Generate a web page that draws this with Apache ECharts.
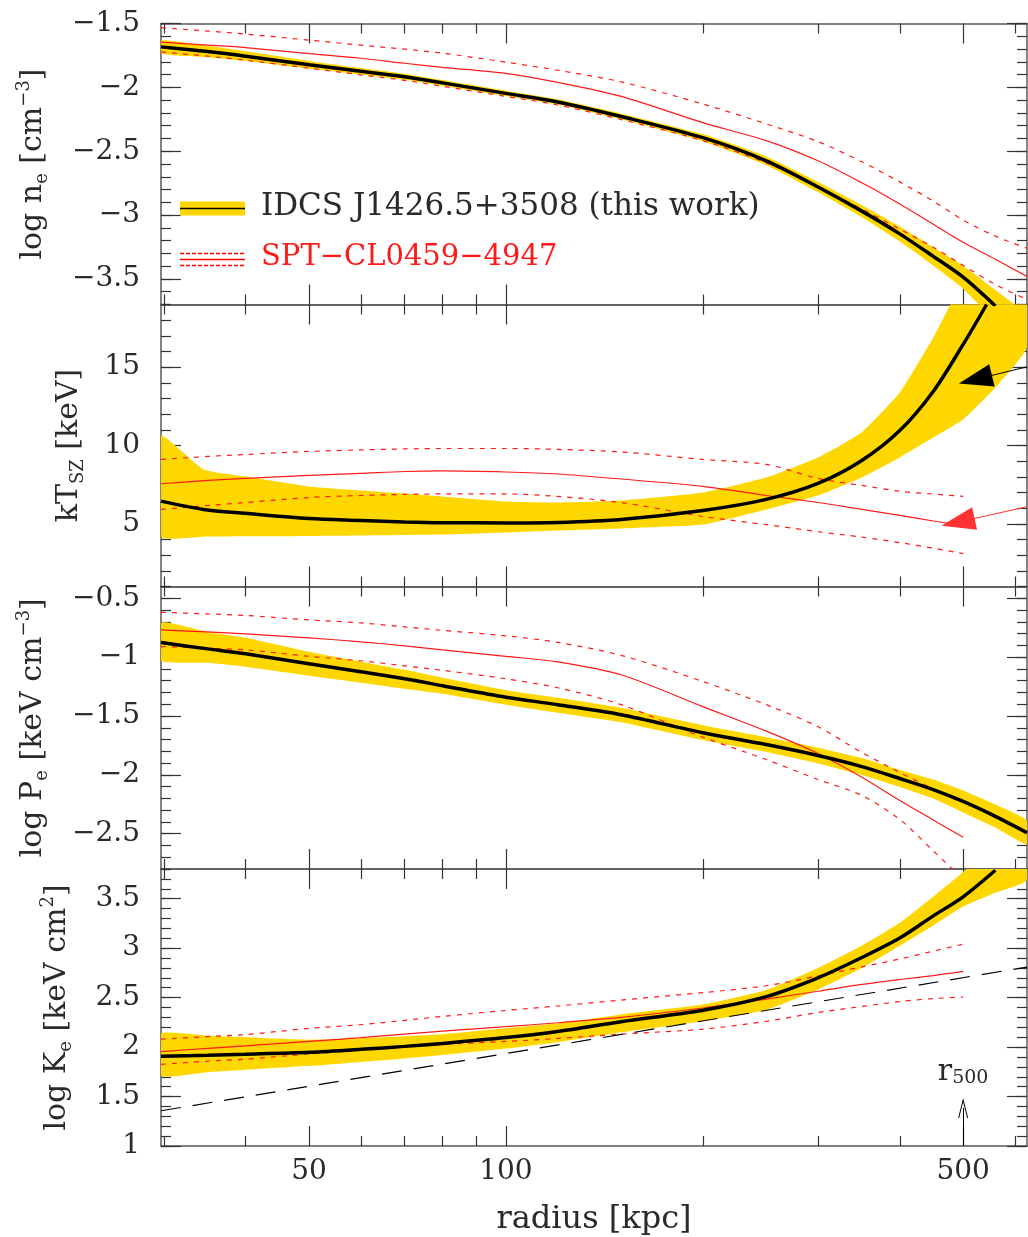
<!DOCTYPE html>
<html><head><meta charset="utf-8">
<script src="https://cdn.jsdelivr.net/npm/echarts@6/dist/echarts.min.js"></script>
<style>html,body{margin:0;padding:0;background:#fff}#c{width:1028px;height:1237px}</style>
</head><body><div id="c"></div>
<script>
// ---------------- data ----------------
const xTicksMajor = [50, 100, 500];
const xTicksMinor = [30, 40, 60, 70, 80, 90, 200, 300, 400, 600];

const yTicksNe = [-3.5, -3, -2.5, -2, -1.5];
const yTicksT  = [5, 10, 15];
const yTicksP  = [-2.5, -2, -1.5, -1, -0.5];
const yTicksK  = [1, 1.5, 2, 2.5, 3, 3.5];

// radii [kpc]
const rIdcs  = [29.7,35,40,50,60,70,80,100,120,150,200,250,300,350,400,450,500,560];
const rBand  = [29.7,35,40,50,60,70,80,100,120,150,200,250,300,350,400,450,500,560,626];
const rIdcsT = [29.7,34.5,40,50,60,70,80,100,120,150,200,250,300,350,400,450,500,543];
const rBandT = [29.7,34.5,40,50,60,70,80,100,120,150,200,250,300,350,400,450,500,560,626];
const rSpt   = [29.7,35,40,50,60,70,80,100,120,150,200,250,300,350,400,450,500];
const rSptNe = [29.7,35,40,50,60,70,80,100,120,150,200,250,300,350,400,450,500,560,626];

// panel 1 : log n_e
const neIdcs   = [-1.683,-1.720,-1.756,-1.823,-1.874,-1.917,-1.965,-2.047,-2.114,-2.228,-2.394,-2.575,-2.780,-2.969,-3.147,-3.323,-3.486,-3.711];
const neIdcsLo = [-1.735,-1.765,-1.794,-1.853,-1.900,-1.941,-1.987,-2.067,-2.134,-2.250,-2.422,-2.609,-2.820,-3.017,-3.205,-3.395,-3.576,-3.836,-4.13];
const neIdcsHi = [-1.631,-1.675,-1.718,-1.793,-1.848,-1.893,-1.943,-2.027,-2.094,-2.206,-2.366,-2.541,-2.740,-2.921,-3.089,-3.251,-3.396,-3.586,-3.79];
const neSpt    = [-1.646,-1.669,-1.689,-1.736,-1.772,-1.811,-1.843,-1.890,-1.961,-2.071,-2.276,-2.417,-2.575,-2.747,-2.913,-3.071,-3.213,-3.346,-3.480];
const neSptHi  = [-1.533,-1.559,-1.583,-1.630,-1.669,-1.701,-1.732,-1.803,-1.866,-1.957,-2.130,-2.286,-2.425,-2.583,-2.740,-2.890,-3.039,-3.165,-3.260];
const neSptLo  = [-1.722,-1.756,-1.787,-1.850,-1.902,-1.945,-1.992,-2.071,-2.138,-2.252,-2.417,-2.591,-2.780,-2.953,-3.110,-3.252,-3.394,-3.543,-3.661];

// panel 2 : kT_SZ
const TIdcs   = [6.45,5.92,5.67,5.34,5.22,5.12,5.07,5.06,5.09,5.28,5.85,6.56,7.58,9.04,10.95,13.45,16.45,19.0];
const TIdcsHi = [10.60,8.47,8.02,7.39,7.13,6.94,6.75,6.43,6.36,6.49,7.00,7.96,9.24,10.85,13.38,16.89,20.6,24.4,28.3];
const TIdcsLo = [4.18,4.18,4.20,4.23,4.26,4.29,4.32,4.45,4.58,4.71,4.96,5.92,6.81,7.96,9.24,10.51,11.66,13.70,16.32];
const TSpt    = [7.56,7.77,7.90,8.09,8.22,8.34,8.38,8.31,8.18,7.86,7.39,6.81,6.36,5.92,5.54,5.18,4.90];
const TSptHi  = [9.11,9.30,9.43,9.62,9.72,9.78,9.81,9.81,9.75,9.59,9.11,8.79,7.90,7.45,7.08,6.90,6.75];
const TSptLo  = [5.92,6.17,6.36,6.68,6.81,6.88,6.91,6.91,6.75,6.36,5.47,4.95,4.50,4.15,3.80,3.45,3.10];

// panel 3 : log P_e
const PIdcs   = [-0.876,-0.930,-0.972,-1.057,-1.125,-1.184,-1.243,-1.341,-1.404,-1.489,-1.642,-1.743,-1.836,-1.930,-2.031,-2.125,-2.226,-2.353,-2.492];
const PIdcsHi = [-0.707,-0.786,-0.836,-0.955,-1.039,-1.108,-1.175,-1.281,-1.345,-1.430,-1.578,-1.680,-1.769,-1.858,-1.959,-2.040,-2.133,-2.252,-2.387];
const PIdcsLo = [-1.031,-1.048,-1.082,-1.158,-1.217,-1.268,-1.311,-1.404,-1.472,-1.553,-1.705,-1.807,-1.904,-2.002,-2.103,-2.201,-2.319,-2.447,-2.591];
const PSpt    = [-0.769,-0.786,-0.803,-0.836,-0.870,-0.904,-0.938,-0.993,-1.040,-1.150,-1.421,-1.629,-1.819,-2.021,-2.218,-2.383,-2.531];
const PSptHi  = [-0.619,-0.633,-0.646,-0.684,-0.709,-0.743,-0.773,-0.819,-0.875,-0.985,-1.207,-1.404,-1.591,-1.810,-1.980,-2.120,-2.240];
const PSptLo  = [-0.910,-0.925,-0.938,-0.993,-1.031,-1.074,-1.112,-1.184,-1.260,-1.404,-1.680,-1.870,-2.040,-2.175,-2.379,-2.646,-2.887];

// panel 4 : log K_e
const KIdcs   = [1.908,1.917,1.927,1.947,1.977,2.007,2.037,2.096,2.157,2.256,2.372,2.510,2.700,2.905,3.102,3.326,3.519,3.787];
const KIdcsHi = [2.136,2.115,2.100,2.075,2.090,2.110,2.130,2.190,2.240,2.330,2.430,2.577,2.800,3.025,3.256,3.520,3.770,4.050,4.300];
const KIdcsLo = [1.709,1.745,1.770,1.810,1.850,1.885,1.920,1.985,2.050,2.150,2.262,2.378,2.583,2.800,3.024,3.230,3.420,3.560,3.690];
const KSpt    = [1.954,1.987,2.012,2.057,2.096,2.131,2.161,2.206,2.246,2.300,2.395,2.485,2.564,2.633,2.683,2.723,2.765];
const KSptHi  = [2.080,2.106,2.126,2.189,2.226,2.270,2.310,2.370,2.415,2.475,2.550,2.620,2.720,2.810,2.890,2.970,3.040];
const KSptLo  = [1.825,1.858,1.878,1.930,1.967,1.997,2.027,2.057,2.087,2.131,2.181,2.260,2.350,2.410,2.460,2.490,2.505];
const rKBase  = [29.7, 100, 626];
const KBase   = [1.356, 1.934, 2.809];

// annotation arrows (data coordinates)
const arrowTIdcs = [[626, 15.02], [522, 14.22]];
const arrowTSpt  = [[626, 6.09], [491, 5.11]];
const arrowR500  = [[500, 1.0], [500, 1.385]];

// ---------------- layout / style ----------------
const FONT = '"DejaVu Serif", serif';
const TXT = '#2a2a2a';
const FRAME = '#5a5a5a';
const TICK = '#333';
const GOLD = '#FFD700';
const RED = '#ff1a1a';
const B = [23.5, 304.5, 586.5, 869, 1150.3];
const yRanges = [[-3.7, -1.5], [1, 19], [-2.8, -0.4], [1, 3.8]];
const yMajor = [yTicksNe, yTicksT, yTicksP, yTicksK];
const yMinorStep = [0.1, 1, 0.1, 0.1];
const nameGaps = [110, 74, 110, 86];
const subRich = {
  b: {fontFamily: FONT, fontSize: 30, color: TXT, lineHeight: 36},
  sub: {fontFamily: FONT, fontSize: 18, color: TXT, lineHeight: 15, verticalAlign: 'bottom'},
  sup: {fontFamily: FONT, fontSize: 18, color: TXT, lineHeight: 17, verticalAlign: 'top'}
};
const yNames = [
  '{b|log n}{sub|e}{b| [cm}{sup|\u22123}{b|]}',
  '{b|kT}{sub|SZ}{b| [keV]}',
  '{b|log P}{sub|e}{b| [keV cm}{sup|\u22123}{b|]}',
  '{b|log K}{sub|e}{b| [keV cm}{sup|2}{b|]}'
];

function fmtY(v) {
  const a = Math.round(Math.abs(v) * 10) / 10;
  return (v < -1e-9 ? '\u2212' : '') + a;
}

const grids = [], xAxes = [], yAxes = [];
const lineS = {color: FRAME, width: 1.5};
const tickS = {color: TICK, width: 1.2};
for (let i = 0; i < 4; i++) {
  grids.push({left: 161, width: 866, top: B[i], height: B[i + 1] - B[i], containLabel: false});
  const xb = {type: 'log', logBase: 10, gridIndex: i, min: 29.7, max: 626, splitLine: {show: false}, axisPointer: {show: false}};
  xAxes.push(Object.assign({}, xb, {
    position: 'bottom',
    axisLine: {show: true, onZero: false, lineStyle: lineS},
    axisTick: {show: true, inside: true, length: 20, customValues: xTicksMajor, lineStyle: tickS},
    axisLabel: i === 3 ? {show: true, customValues: xTicksMajor, formatter: v => String(Math.round(v)), margin: 12,
                          fontFamily: FONT, fontSize: 28, color: TXT} : {show: false},
    name: i === 3 ? 'radius [kpc]' : '', nameLocation: 'middle', nameGap: 58,
    nameTextStyle: {fontFamily: FONT, fontSize: 32, color: TXT}
  }));
  xAxes.push(Object.assign({}, xb, {
    position: 'bottom', axisLine: {show: false, onZero: false},
    axisTick: {show: true, inside: true, length: 10, customValues: xTicksMinor, lineStyle: tickS},
    axisLabel: {show: false}
  }));
  xAxes.push(Object.assign({}, xb, {
    position: 'top', axisLine: {show: true, onZero: false, lineStyle: lineS},
    axisTick: {show: true, inside: true, length: 20, customValues: xTicksMajor, lineStyle: tickS},
    axisLabel: {show: false}
  }));
  xAxes.push(Object.assign({}, xb, {
    position: 'top', axisLine: {show: false, onZero: false},
    axisTick: {show: true, inside: true, length: 10, customValues: xTicksMinor, lineStyle: tickS},
    axisLabel: {show: false}
  }));

  const yb = {type: 'value', gridIndex: i, min: yRanges[i][0], max: yRanges[i][1], splitLine: {show: false}, axisPointer: {show: false}};
  yAxes.push(Object.assign({}, yb, {
    position: 'left',
    axisLine: {show: true, onZero: false, lineStyle: lineS},
    axisTick: {show: true, inside: true, length: 20, customValues: yMajor[i], lineStyle: tickS},
    axisLabel: {show: true, customValues: yMajor[i], formatter: fmtY, margin: 21, fontFamily: FONT, fontSize: 28, color: TXT},
    name: yNames[i], nameLocation: 'middle', nameRotate: 90, nameGap: nameGaps[i],
    nameTextStyle: {fontFamily: FONT, fontSize: 30, color: TXT, rich: subRich}
  }));
  yAxes.push(Object.assign({}, yb, {
    position: 'left', interval: yMinorStep[i], axisLine: {show: false, onZero: false},
    axisTick: {show: true, inside: true, length: 10, lineStyle: tickS}, axisLabel: {show: false}
  }));
  yAxes.push(Object.assign({}, yb, {
    position: 'right', axisLine: {show: true, onZero: false, lineStyle: lineS},
    axisTick: {show: true, inside: true, length: 20, customValues: yMajor[i], lineStyle: tickS}, axisLabel: {show: false}
  }));
  yAxes.push(Object.assign({}, yb, {
    position: 'right', interval: yMinorStep[i], axisLine: {show: false, onZero: false},
    axisTick: {show: true, inside: true, length: 10, lineStyle: tickS}, axisLabel: {show: false}
  }));
}

function band(i, rs, lo, hi) {
  return {
    type: 'custom', xAxisIndex: i * 4, yAxisIndex: i * 4, silent: true, z: 1,
    data: rs.map((r, k) => [r, lo[k], hi[k]]),
    encode: {x: 0, y: [1, 2]},
    renderItem: function (params, api) {
      if (params.dataIndex !== 0) return;
      const pts = [];
      for (let k = 0; k < rs.length; k++) pts.push(api.coord([rs[k], hi[k]]));
      for (let k = rs.length - 1; k >= 0; k--) pts.push(api.coord([rs[k], lo[k]]));
      const cs = params.coordSys;
      return {
        type: 'polygon', shape: {points: pts, smooth: 0.15}, style: {fill: GOLD, stroke: null},
        clipPath: {type: 'rect', shape: {x: cs.x, y: cs.y, width: cs.width, height: cs.height}}
      };
    }
  };
}
function line(i, rs, vs, color, width, type, z, extra) {
  return Object.assign({
    type: 'line', xAxisIndex: i * 4, yAxisIndex: i * 4,
    data: rs.map((r, k) => [r, vs[k]]),
    showSymbol: false, symbol: 'none', smooth: 0.3, clip: true, silent: true, z: z,
    lineStyle: {color: color, width: width, type: type}
  }, extra || {});
}
const DASH = [5, 6];

const series = [
  band(0, rBand, neIdcsLo, neIdcsHi),
  line(0, rSptNe, neSptHi, RED, 1.2, DASH, 3),
  line(0, rSptNe, neSptLo, RED, 1.2, DASH, 3),
  line(0, rSptNe, neSpt, RED, 1.2, 'solid', 3),
  line(0, rIdcs, neIdcs, '#000', 3.5, 'solid', 5),

  band(1, rBandT, TIdcsLo, TIdcsHi),
  line(1, rSpt, TSptHi, RED, 1.2, DASH, 3),
  line(1, rSpt, TSptLo, RED, 1.2, DASH, 3),
  line(1, rSpt, TSpt, RED, 1.2, 'solid', 3, {
    markLine: {silent: true, animation: false, symbol: ['none', 'triangle'], symbolSize: [23, 34],
      label: {show: false}, lineStyle: {color: '#ff3333', width: 1, type: 'solid'}, itemStyle: {color: '#ff3333'},
      data: [[{coord: arrowTSpt[0]}, {coord: arrowTSpt[1]}]]}
  }),
  line(1, rIdcsT, TIdcs, '#000', 3.5, 'solid', 5, {
    markLine: {silent: true, animation: false, symbol: ['none', 'triangle'], symbolSize: [23, 34],
      label: {show: false}, lineStyle: {color: '#000', width: 1, type: 'solid'}, itemStyle: {color: '#000'},
      data: [[{coord: arrowTIdcs[0]}, {coord: arrowTIdcs[1]}]]}
  }),

  band(2, rBand, PIdcsLo, PIdcsHi),
  line(2, rSpt, PSptHi, RED, 1.2, DASH, 3),
  line(2, rSpt, PSptLo, RED, 1.2, DASH, 3),
  line(2, rSpt, PSpt, RED, 1.2, 'solid', 3),
  line(2, rBand, PIdcs, '#000', 3.5, 'solid', 5),

  band(3, rBand, KIdcsLo, KIdcsHi),
  line(3, rSpt, KSptHi, RED, 1.2, DASH, 3),
  line(3, rSpt, KSptLo, RED, 1.2, DASH, 3),
  line(3, rSpt, KSpt, RED, 1.2, 'solid', 3),
  line(3, rKBase, KBase, '#000', 1.2, [20, 12], 4, {smooth: false}),
  line(3, rIdcs, KIdcs, '#000', 3.5, 'solid', 5, {
    markLine: {silent: true, animation: false, symbol: ['none', 'path://M0,10 L5,0 L10,10 L9,10 L5,2 L1,10 Z'],
      symbolSize: [10, 20],
      lineStyle: {color: '#000', width: 1, type: 'solid'}, itemStyle: {color: '#000'},
      label: {show: true, position: 'end', distance: 20, formatter: '{r|r}{s|500}',
        rich: {r: {fontFamily: FONT, fontSize: 30, color: TXT, lineHeight: 32},
               s: {fontFamily: FONT, fontSize: 19, color: TXT, lineHeight: 14, verticalAlign: 'bottom'}}},
      data: [[{coord: arrowR500[0]}, {coord: arrowR500[1]}]]}
  })
];

const graphic = [
  {type: 'rect', shape: {x: 180, y: 201.5, width: 65, height: 14}, style: {fill: GOLD}, z: 10},
  {type: 'line', shape: {x1: 180, y1: 208.5, x2: 245, y2: 208.5}, style: {stroke: '#000', lineWidth: 1.5}, z: 11},
  {type: 'text', x: 261, y: 207, style: {text: 'IDCS J1426.5+3508 (this work)', font: '31px ' + FONT, fill: TXT, verticalAlign: 'middle'}, z: 11},
  {type: 'line', shape: {x1: 180, y1: 253.5, x2: 245, y2: 253.5}, style: {stroke: '#ff0000', fill: null, lineWidth: 1.3, lineDash: [4, 2]}, z: 11},
  {type: 'line', shape: {x1: 180, y1: 259.5, x2: 245, y2: 259.5}, style: {stroke: '#ff0000', fill: null, lineWidth: 1.3}, z: 11},
  {type: 'line', shape: {x1: 180, y1: 265.5, x2: 245, y2: 265.5}, style: {stroke: '#ff0000', fill: null, lineWidth: 1.3, lineDash: [4, 2]}, z: 11},
  {type: 'text', x: 261, y: 257, style: {text: 'SPT\u2212CL0459\u22124947', font: '29px ' + FONT, fill: RED, verticalAlign: 'middle'}, z: 11}
];

const chart = echarts.init(document.getElementById('c'), null, {renderer: 'canvas'});
chart.setOption({
  backgroundColor: '#fff',
  animation: false,
  grid: grids,
  xAxis: xAxes,
  yAxis: yAxes,
  series: series,
  graphic: graphic
});
</script>
</body></html>
